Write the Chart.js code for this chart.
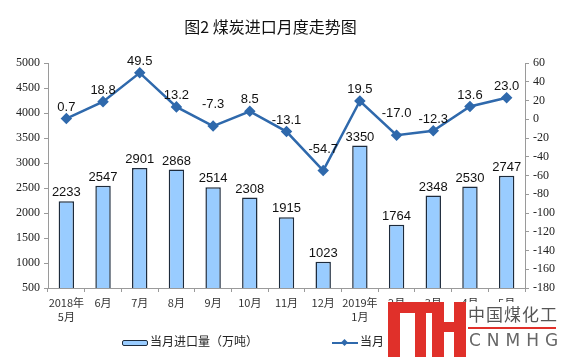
<!DOCTYPE html>
<html>
<head>
<meta charset="utf-8">
<script src="https://cdn.jsdelivr.net/npm/chart.js@4"></script>
<style>
  body { margin: 0; background: #fff; }
  #wrap { position: relative; width: 561px; height: 357px; background: #fff; }
  #title { position: absolute; left: 0; top: 14px; width: 541px; text-align: center;
           font: 16px "Noto Sans CJK SC"; color: #111; }
  .leg { position: absolute; top: 332px; font: 12px "Noto Sans CJK SC"; color: #222; white-space: nowrap; }
  #wm { position: absolute; left: 383px; top: 302px; width: 178px; height: 55px; background: #fff; overflow: hidden; }
  #wm div { white-space: nowrap; }
  .red { position: absolute; background: #e0302a; }
</style>
</head>
<body>
<div id="wrap">
  <canvas id="importChart" width="561" height="357"></canvas>
  <div id="title">图2 煤炭进口月度走势图</div>
  <div id="legend"></div>
  <!-- watermark in the corner -->
  <div id="wm">
    <div class="red" style="left:5px;top:0;width:12px;height:55px"></div>
    <div class="red" style="left:5px;top:0;width:56px;height:11px"></div>
    <div class="red" style="left:32px;top:0;width:11px;height:55px"></div>
    <div class="red" style="left:49px;top:0;width:12px;height:55px"></div>
    <div class="red" style="left:61px;top:20px;width:10px;height:10px"></div>
    <div class="red" style="left:71px;top:0;width:12px;height:55px"></div>
    <div style="position:absolute;left:85px;top:2px;font:17px 'Noto Sans CJK SC';line-height:20px;color:#555;letter-spacing:1px">中国煤化工</div>
    <div style="position:absolute;left:85px;top:25px;width:88px;height:2px;background:#e0302a"></div>
    <div style="position:absolute;left:86px;top:28px;font:17px 'DejaVu Sans';line-height:20px;color:#666;letter-spacing:6px">CNMHG</div>
  </div>
</div>
<script>
// 月份
const months = [['2018年', '5月'], '6月', '7月', '8月', '9月', '10月', '11月', '12月',
                ['2019年', '1月'], '2月', '3月', '4月', '5月'];
// 当月进口量（万吨）
const importVolume = [2233, 2547, 2901, 2868, 2514, 2308, 1915, 1023, 3350, 1764, 2348, 2530, 2747];
// 当月同比（%）
const yoyChange = [0.7, 18.8, 49.5, 13.2, -7.3, 8.5, -13.1, -54.7, 19.5, -17.0, -12.3, 13.6, 23.0];

const barLabel = '当月进口量（万吨）';
const lineLabel = '当月同比（%）';

const barFill = '#99CCFF';
const barBorder = '#1d2b3c';
const lineColor = '#2f69ac';
const axisColor = '#9a9a9a';

// value labels above bars and points
const valueLabels = {
    id: 'valueLabels',
    afterDatasetsDraw(chart) {
        const ctx = chart.ctx;
        ctx.save();
        ctx.font = '13px "Liberation Sans"';
        ctx.fillStyle = '#111';
        ctx.textAlign = 'center';
        ctx.textBaseline = 'alphabetic';
        chart.getDatasetMeta(0).data.forEach((el, i) => {
            ctx.fillText(String(importVolume[i]), el.x, el.y - 5);
        });
        chart.getDatasetMeta(1).data.forEach((el, i) => {
            // lift the label a bit more where the line dips, so it clears the segments
            const prev = yoyChange[i - 1], next = yoyChange[i + 1];
            const dip = prev !== undefined && next !== undefined && prev > yoyChange[i] && next > yoyChange[i];
            ctx.fillText(yoyChange[i].toFixed(1), el.x, el.y - (dip ? 18 : 8));
        });
        ctx.restore();
    }
};

const ctx = document.getElementById('importChart').getContext('2d');
const importChart = new Chart(ctx, {
    data: {
        labels: months,
        datasets: [{
            type: 'bar',
            label: barLabel,
            data: importVolume,
            yAxisID: 'y',
            backgroundColor: barFill,
            borderColor: barBorder,
            borderWidth: 1.5,
            barPercentage: 0.42,
            categoryPercentage: 1,
            order: 2
        }, {
            type: 'line',
            label: lineLabel,
            data: yoyChange,
            yAxisID: 'y1',
            borderColor: lineColor,
            backgroundColor: lineColor,
            borderWidth: 2.5,
            pointStyle: 'rectRot',
            pointRadius: 4,
            tension: 0,
            order: 1
        }]
    },
    options: {
        responsive: false,
        animation: false,
        layout: { padding: { top: 63, bottom: 29, left: 0, right: 0 } },
        plugins: {
            legend: { display: false },
            tooltip: { enabled: false }
        },
        scales: {
            x: {
                offset: true,
                grid: { offset: true, drawOnChartArea: false, color: axisColor, tickLength: 4 },
                border: { color: axisColor },
                ticks: { font: { family: 'Noto Sans CJK SC', size: 11, lineHeight: 1.35 }, color: '#333', padding: 3, maxRotation: 0, autoSkip: false },
                afterFit(scale) { scale.height = 40; }
            },
            y: {
                position: 'left',
                min: 500, max: 5000,
                ticks: { stepSize: 500, font: { family: 'Liberation Serif', size: 12 }, color: '#222', padding: 4,
                         callback: v => String(v) },
                grid: { drawOnChartArea: false, color: axisColor, tickLength: 4 },
                border: { color: axisColor },
                afterFit(scale) { scale.width = 48; }
            },
            y1: {
                position: 'right',
                min: -180, max: 60,
                ticks: { stepSize: 20, font: { family: 'Liberation Serif', size: 12 }, color: '#222', padding: 4,
                         callback: v => String(v) },
                grid: { drawOnChartArea: false, color: axisColor, tickLength: 4 },
                border: { color: axisColor },
                afterFit(scale) { scale.width = 36; }
            }
        }
    },
    plugins: [valueLabels]
});

// legend built from the datasets
const legend = document.getElementById('legend');
legend.innerHTML =
    '<div class="leg" style="left:122px"><span style="display:inline-block;width:24px;height:4px;background:' + barFill +
    ';border:1.5px solid ' + barBorder + ';border-radius:2px;vertical-align:middle;margin-right:2px"></span>' + barLabel + '</div>' +
    '<div class="leg" style="left:332px"><span style="display:inline-block;position:relative;width:26px;height:8px;vertical-align:middle;margin-right:2px">' +
    '<span style="position:absolute;left:0;top:3px;width:26px;height:2.5px;background:' + lineColor + '"></span>' +
    '<span style="position:absolute;left:10px;top:1px;width:5px;height:5px;background:' + lineColor + ';transform:rotate(45deg)"></span></span>' + lineLabel + '</div>';
</script>
</body>
</html>
